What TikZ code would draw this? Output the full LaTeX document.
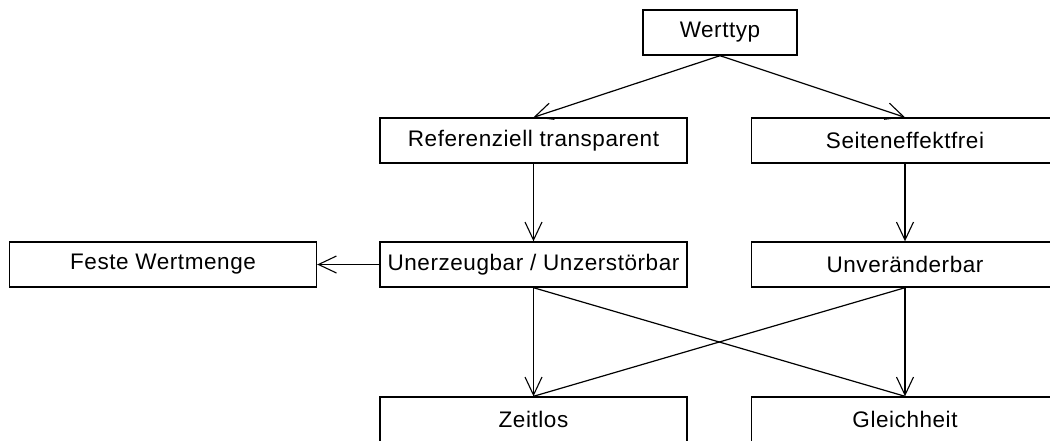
\documentclass[tikz,border=0pt]{standalone}
\usepackage{fontspec}
\setmainfont{Liberation Sans}[LetterSpace=2.5]
\usetikzlibrary{arrows.meta}

\tikzset{
    kasten/.style={draw, black, line width=1.4pt, minimum width=307pt, minimum height=45pt,
        inner sep=0pt, font=\fontsize{22.5}{26}\selectfont},
    pfeil/.style={black, line width=1.2pt, -{Straight Barb[length=18pt, width=17pt, line width=1.1pt]}},
    linie/.style={black, line width=1.2pt}
}

\begin{document}
\begin{tikzpicture}[x=1pt, y=-1pt]
        \useasboundingbox (0,0) rectangle (1050,440);
        \node[kasten, minimum width=154pt] (werttyp) at (720,32.5) {Werttyp};
        \node[kasten] (referenz) at (533.5,140.5) {Referenziell transparent};
        \node[kasten] (seiten) at (905,140.5) {Seiteneffektfrei};
        \node[kasten] (feste) at (163,264.5) {Feste Wertmenge};
        \node[kasten] (unerz) at (533.5,264.5) {Unerzeugbar / Unzerstörbar};
        \node[kasten] (unver) at (905,264.5) {Unveränderbar};
        \node[kasten] (zeitlos) at (533.5,419.5) {Zeitlos};
        \node[kasten] (gleich) at (905,419.5) {Gleichheit};
        \draw[pfeil] (werttyp.south) -- (referenz.north);
        \draw[pfeil] (werttyp.south) -- (seiten.north);
        \draw[pfeil] (referenz.south) -- (unerz.north);
        \draw[pfeil] (seiten.south) -- (unver.north);
        \draw[pfeil] (unerz.west) -- (feste.east);
        \draw[pfeil] (unerz.south) -- (zeitlos.north);
        \draw[pfeil] (unver.south) -- (gleich.north);
        \draw[linie] (unerz.south) -- (gleich.north);
        \draw[linie] (unver.south) -- (zeitlos.north);
    \end{tikzpicture}
\end{document}
